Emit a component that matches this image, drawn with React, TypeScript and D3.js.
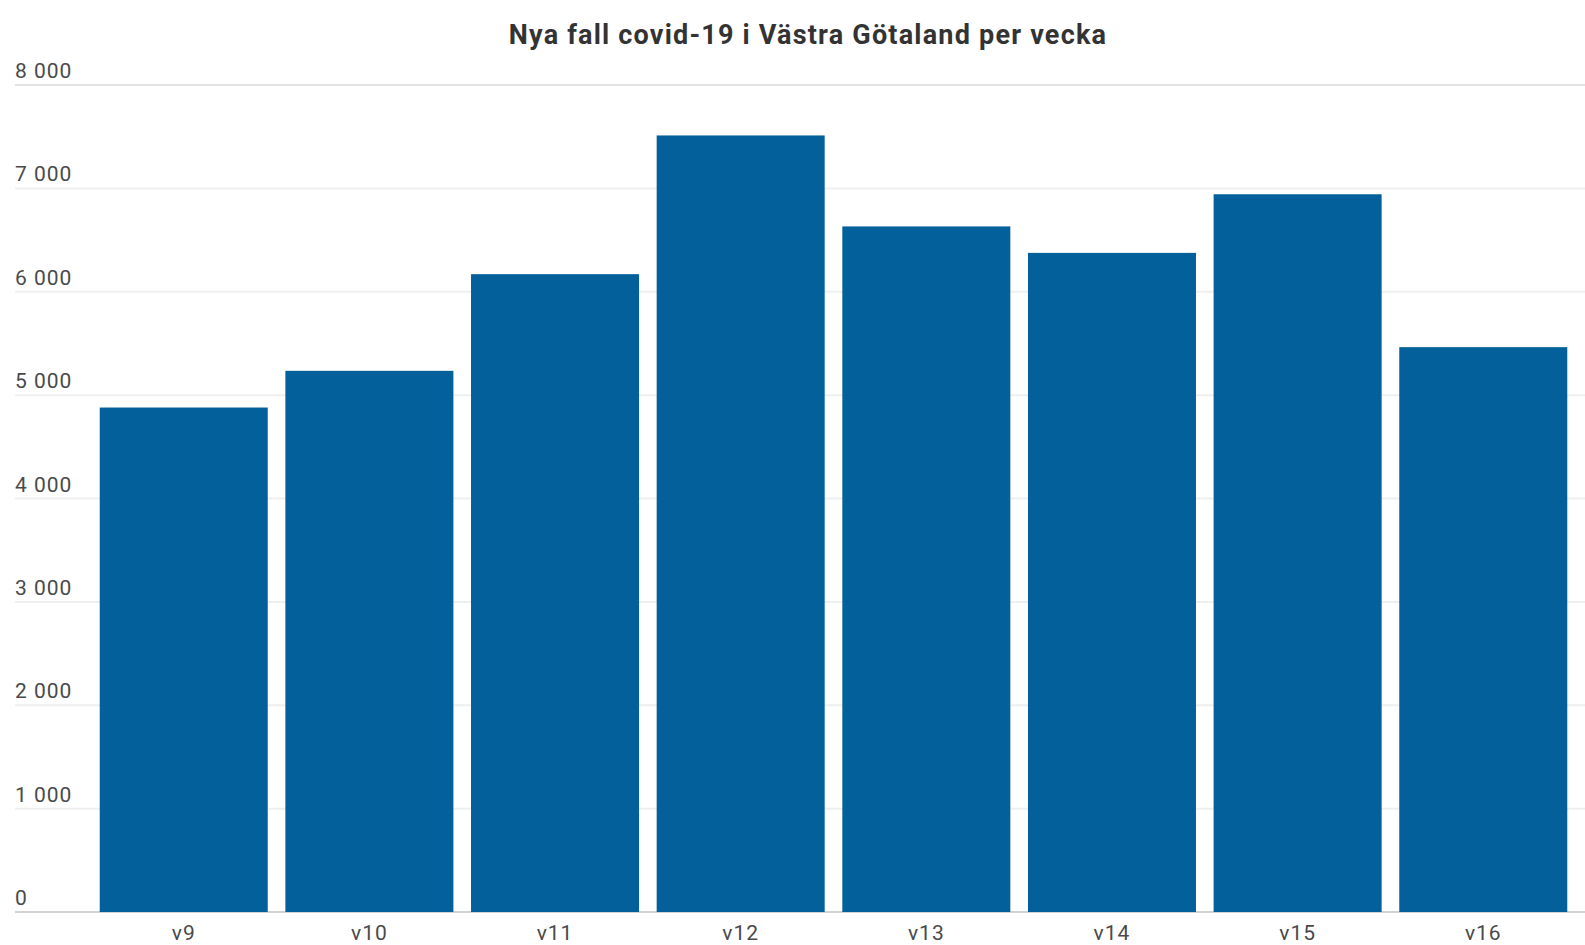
import React, { useRef, useEffect } from "react";
import * as d3 from "d3";

// data
const weeks = ["v9", "v10", "v11", "v12", "v13", "v14", "v15", "v16"];
const cases = [4880, 5235, 6170, 7512, 6632, 6376, 6943, 5464];
const yTicks = [0, 1000, 2000, 3000, 4000, 5000, 6000, 7000, 8000];
const title = "Nya fall covid-19 i Västra Götaland per vecka";

const App = () => {
  const container = useRef(null);

  const width = 1585;
  const height = 945;

  useEffect(() => {
    const svg = d3.select(container.current);
    svg.selectAll("*").remove();

    const fmt = d3.formatLocale({
      decimal: ",",
      thousands: " ",
      grouping: [3],
      currency: ["", " kr"],
    }).format(",d");

    // scales
    const xScale = d3
      .scaleBand()
      .domain(weeks)
      .range([91, 1576])
      .paddingInner(0.095)
      .paddingOuter(0.047);

    const yScale = d3.scaleLinear().domain([0, 8000]).range([912, 85]);

    // title
    svg
      .append("text")
      .attr("x", 808)
      .attr("y", 44)
      .attr("text-anchor", "middle")
      .style("font-family", "Roboto")
      .style("font-weight", "bold")
      .style("font-size", "27px")
      .style("letter-spacing", "1.2px")
      .style("fill", "#333333")
      .text(title);

    // gridlines + y labels
    const grid = svg.append("g").attr("class", "y-grid");
    grid
      .selectAll("line")
      .data(yTicks)
      .enter()
      .append("line")
      .attr("x1", 15)
      .attr("x2", width)
      .attr("y1", (d) => yScale(d))
      .attr("y2", (d) => yScale(d))
      .style("stroke", (d) => (d === 0 ? "#d2d2d2" : d === 8000 ? "#e2e2e2" : "#efefef"))
      .style("stroke-width", 2);

    grid
      .selectAll("text")
      .data(yTicks)
      .enter()
      .append("text")
      .attr("x", 15)
      .attr("y", (d) => yScale(d) - 7)
      .style("font-family", "Roboto")
      .style("font-size", "21px")
      .style("letter-spacing", "1px")
      .style("fill", "#4a4a4a")
      .text((d) => fmt(d));

    // bars
    svg
      .append("g")
      .selectAll("rect")
      .data(cases)
      .enter()
      .append("rect")
      .attr("x", (d, i) => xScale(weeks[i]))
      .attr("y", (d) => yScale(d))
      .attr("width", xScale.bandwidth())
      .attr("height", (d) => yScale(0) - yScale(d))
      .style("fill", "#03609a");

    // x labels
    svg
      .append("g")
      .selectAll("text")
      .data(weeks)
      .enter()
      .append("text")
      .attr("x", (d) => xScale(d) + xScale.bandwidth() / 2)
      .attr("y", 940)
      .attr("text-anchor", "middle")
      .style("font-family", "Roboto")
      .style("font-size", "21px")
      .style("letter-spacing", "1px")
      .style("fill", "#4a4a4a")
      .text((d) => d);
  }, []);

  return (
    <div style={{ position: "absolute", left: 0, top: 0, width: width, height: height }}>
      <svg ref={container} width={width} height={height} style={{ display: "block", background: "#ffffff" }} />
    </div>
  );
};

export default App;
